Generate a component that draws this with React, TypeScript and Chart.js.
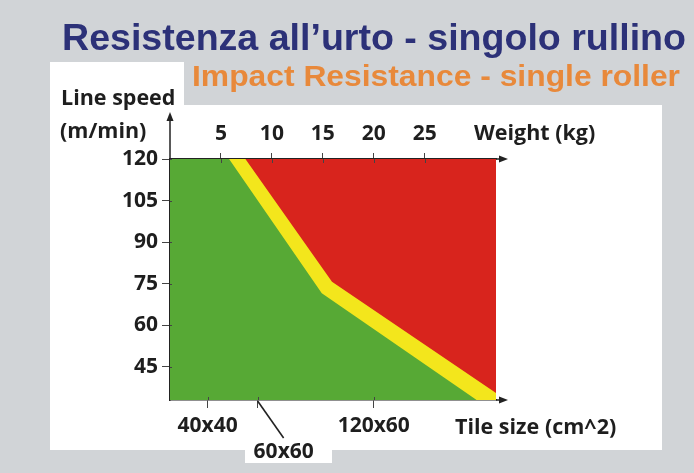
import React, { useEffect, useRef } from "react";
import { Chart, registerables } from "chart.js";

Chart.register(...registerables);

// ---- data ----
const speedTicks = [45, 60, 75, 90, 105, 120];
const weightTicks = [5, 10, 15, 20, 25];
const tileLabels = ["40x40", "60x60", "120x60"];
const tileWeights = [3.7, 8.6, 20.0];
const weightRange = [0, 32];
const speedRange = [33, 120];
// edge between green (safe) and yellow (limit) zone
const safeEdgeWeight = [0, 5.8, 14.9, 30.1];
const safeEdgeSpeed = [120, 120, 71.5, 33];
// edge between yellow (limit) and red (unsafe) zone
const limitEdgeWeight = [0, 7.4, 15.9, 32];
const limitEdgeSpeed = [120, 120, 75.7, 35.5];

const titleText = "Resistenza all\u2019urto - singolo rullino";
const subtitleText = "Impact Resistance - single roller";
const yTitle1 = "Line speed";
const yTitle2 = "(m/min)";
const topTitle = "Weight (kg)";
const bottomTitle = "Tile size (cm^2)";

const W = 694;
const H = 473;
const GREY = "#d1d4d7";
const GREEN = "#57a935";
const RED = "#d8241d";
const YELLOW = "#f3e61c";
const INK = "#1e1e1e";
const FONT = "'Open Sans', sans-serif";

export default function App() {
  const ref = useRef<HTMLCanvasElement | null>(null);

  useEffect(() => {
    const canvas = ref.current;
    if (!canvas) return;

    const bgPlugin = {
      id: "bgPanel",
      beforeDraw(chart: any) {
        const ctx = chart.ctx as CanvasRenderingContext2D;
        ctx.save();
        ctx.fillStyle = GREY;
        ctx.fillRect(0, 0, W, H);
        ctx.fillStyle = "#ffffff";
        ctx.fillRect(50, 105, 612, 345);
        ctx.fillRect(50, 62, 134, 44);
        ctx.fillRect(245, 449, 87, 14);
        ctx.restore();
      },
    };

    const fitText = (
      ctx: CanvasRenderingContext2D,
      text: string,
      x: number,
      y: number,
      width: number,
      font: string,
      color: string
    ) => {
      ctx.save();
      ctx.font = font;
      ctx.fillStyle = color;
      ctx.textAlign = "left";
      ctx.textBaseline = "alphabetic";
      const w = ctx.measureText(text).width;
      ctx.translate(x, y);
      ctx.scale(width / w, 1);
      ctx.fillText(text, 0, 0);
      ctx.restore();
    };

    const text = (
      ctx: CanvasRenderingContext2D,
      t: string,
      x: number,
      y: number,
      size: number
    ) => {
      ctx.save();
      ctx.font = `bold ${size}px ${FONT}`;
      ctx.fillStyle = INK;
      ctx.textAlign = "left";
      ctx.textBaseline = "alphabetic";
      ctx.fillText(t, x, y);
      ctx.restore();
    };

    const decoPlugin = {
      id: "deco",
      afterDraw(chart: any) {
        const ctx = chart.ctx as CanvasRenderingContext2D;
        const a = chart.chartArea;
        const xs = chart.scales.x;
        const xt = chart.scales.x2;
        const ys = chart.scales.y;
        ctx.save();
        ctx.strokeStyle = "#222";
        ctx.fillStyle = "#222";
        ctx.lineWidth = 1.5;
        // left axis arrow (extends above plot)
        ctx.beginPath();
        ctx.moveTo(a.left, a.top);
        ctx.lineTo(a.left, a.top - 40);
        ctx.stroke();
        ctx.beginPath();
        ctx.moveTo(a.left, a.top - 47);
        ctx.lineTo(a.left - 3.5, a.top - 38);
        ctx.lineTo(a.left + 3.5, a.top - 38);
        ctx.closePath();
        ctx.fill();
        // top and bottom axis arrows
        for (const y of [a.top, a.bottom]) {
          ctx.beginPath();
          ctx.moveTo(a.right, y);
          ctx.lineTo(a.right + 5, y);
          ctx.stroke();
          ctx.beginPath();
          ctx.moveTo(a.right + 12, y);
          ctx.lineTo(a.right + 3, y - 3.5);
          ctx.lineTo(a.right + 3, y + 3.5);
          ctx.closePath();
          ctx.fill();
        }
        // inner halves of the tick marks
        ctx.strokeStyle = "#444";
        ctx.lineWidth = 1;
        ctx.beginPath();
        for (const t of xt.ticks) {
          const p = Math.round(xt.getPixelForValue(t.value)) + 0.5;
          ctx.moveTo(p, a.top);
          ctx.lineTo(p, a.top + 4);
        }
        for (const t of xs.ticks) {
          const p = Math.round(xs.getPixelForValue(t.value)) + 0.5;
          ctx.moveTo(p, a.bottom);
          ctx.lineTo(p, a.bottom - 3);
        }
        for (const t of ys.ticks) {
          const p = Math.round(ys.getPixelForValue(t.value)) + 0.5;
          ctx.moveTo(a.left, p);
          ctx.lineTo(a.left + 2, p);
        }
        ctx.stroke();
        // leader for the 60x60 label
        const px = xs.getPixelForValue(tileWeights[1]);
        ctx.strokeStyle = "#222";
        ctx.lineWidth = 1.6;
        ctx.beginPath();
        ctx.moveTo(px, a.bottom + 1);
        ctx.lineTo(px + 26, a.bottom + 38);
        ctx.stroke();
        ctx.restore();

        fitText(ctx, titleText, 62, 50, 624, `bold 37px "Liberation Sans", Arial, sans-serif`, "#2c3178");
        fitText(ctx, subtitleText, 192, 86, 488, `bold 30px "Liberation Sans", Arial, sans-serif`, "#e8893b");
        text(ctx, yTitle1, 61, 105, 21.5);
        text(ctx, yTitle2, 60, 138, 21.5);
        text(ctx, topTitle, 474, 140, 21.5);
        text(ctx, bottomTitle, 455, 434, 21.5);
        text(ctx, tileLabels[1], px - 4, 458, 21);
      },
    };

    const tickFont = { family: FONT, size: 21, weight: "bold" as const };
    const pts = (xs: number[], ys: number[]) => xs.map((x, i) => ({ x, y: ys[i] }));

    const chart = new Chart(canvas, {
      type: "line",
      data: {
        datasets: [
          {
            label: "safe",
            data: pts(safeEdgeWeight, safeEdgeSpeed),
            borderWidth: 0,
            backgroundColor: GREEN,
            pointRadius: 0,
            fill: "start",
            clip: 0,
            order: 0,
          },
          {
            label: "limit",
            data: pts(limitEdgeWeight, limitEdgeSpeed),
            borderWidth: 0,
            backgroundColor: YELLOW,
            pointRadius: 0,
            fill: "start",
            clip: 0,
            order: 1,
          },
          {
            label: "unsafe",
            data: pts(weightRange, [speedRange[1], speedRange[1]]),
            borderWidth: 0,
            backgroundColor: RED,
            pointRadius: 0,
            fill: "start",
            clip: 0,
            order: 2,
          },
        ],
      },
      options: {
        responsive: false,
        animation: false,
        events: [],
        layout: { padding: { left: 0, top: 0, right: 198, bottom: 0 } },
        plugins: {
          legend: { display: false },
          tooltip: { enabled: false },
          title: { display: false },
        },
        scales: {
          x: {
            type: "linear",
            position: "bottom",
            min: weightRange[0],
            max: weightRange[1],
            afterBuildTicks: (s: any) => {
              s.ticks = tileWeights.map((v) => ({ value: v }));
            },
            afterFit: (s: any) => {
              s.height = 73;
            },
            ticks: {
              autoSkip: false,
              maxRotation: 0,
              padding: 5,
              color: INK,
              font: tickFont,
              callback: (_v: any, i: number) => (i === 1 ? "" : tileLabels[i]),
            },
            grid: { drawOnChartArea: false, drawTicks: true, tickLength: 8, color: "#444" },
            border: { display: true, color: "#222", width: 1.5 },
          },
          x2: {
            type: "linear",
            position: "top",
            min: weightRange[0],
            max: weightRange[1],
            afterBuildTicks: (s: any) => {
              s.ticks = weightTicks.map((v) => ({ value: v }));
            },
            afterFit: (s: any) => {
              s.height = 159;
            },
            ticks: {
              autoSkip: false,
              maxRotation: 0,
              padding: 6,
              color: INK,
              font: tickFont,
            },
            grid: { drawOnChartArea: false, drawTicks: true, tickLength: 6, color: "#444" },
            border: { display: true, color: "#222", width: 1.5 },
          },
          y: {
            type: "linear",
            position: "left",
            min: speedRange[0],
            max: speedRange[1],
            afterBuildTicks: (s: any) => {
              s.ticks = speedTicks.map((v) => ({ value: v }));
            },
            afterFit: (s: any) => {
              s.width = 170;
            },
            ticks: {
              autoSkip: false,
              padding: 4,
              color: INK,
              font: tickFont,
            },
            grid: { drawOnChartArea: false, drawTicks: true, tickLength: 8, color: "#444" },
            border: { display: true, color: "#222", width: 1.5 },
          },
        },
      },
      plugins: [bgPlugin, decoPlugin],
    } as any);

    return () => chart.destroy();
  }, []);

  return (
    <div style={{ position: "absolute", left: 0, top: 0, width: W, height: H }}>
      <canvas ref={ref} width={W} height={H} style={{ display: "block", width: W, height: H }} />
    </div>
  );
}
